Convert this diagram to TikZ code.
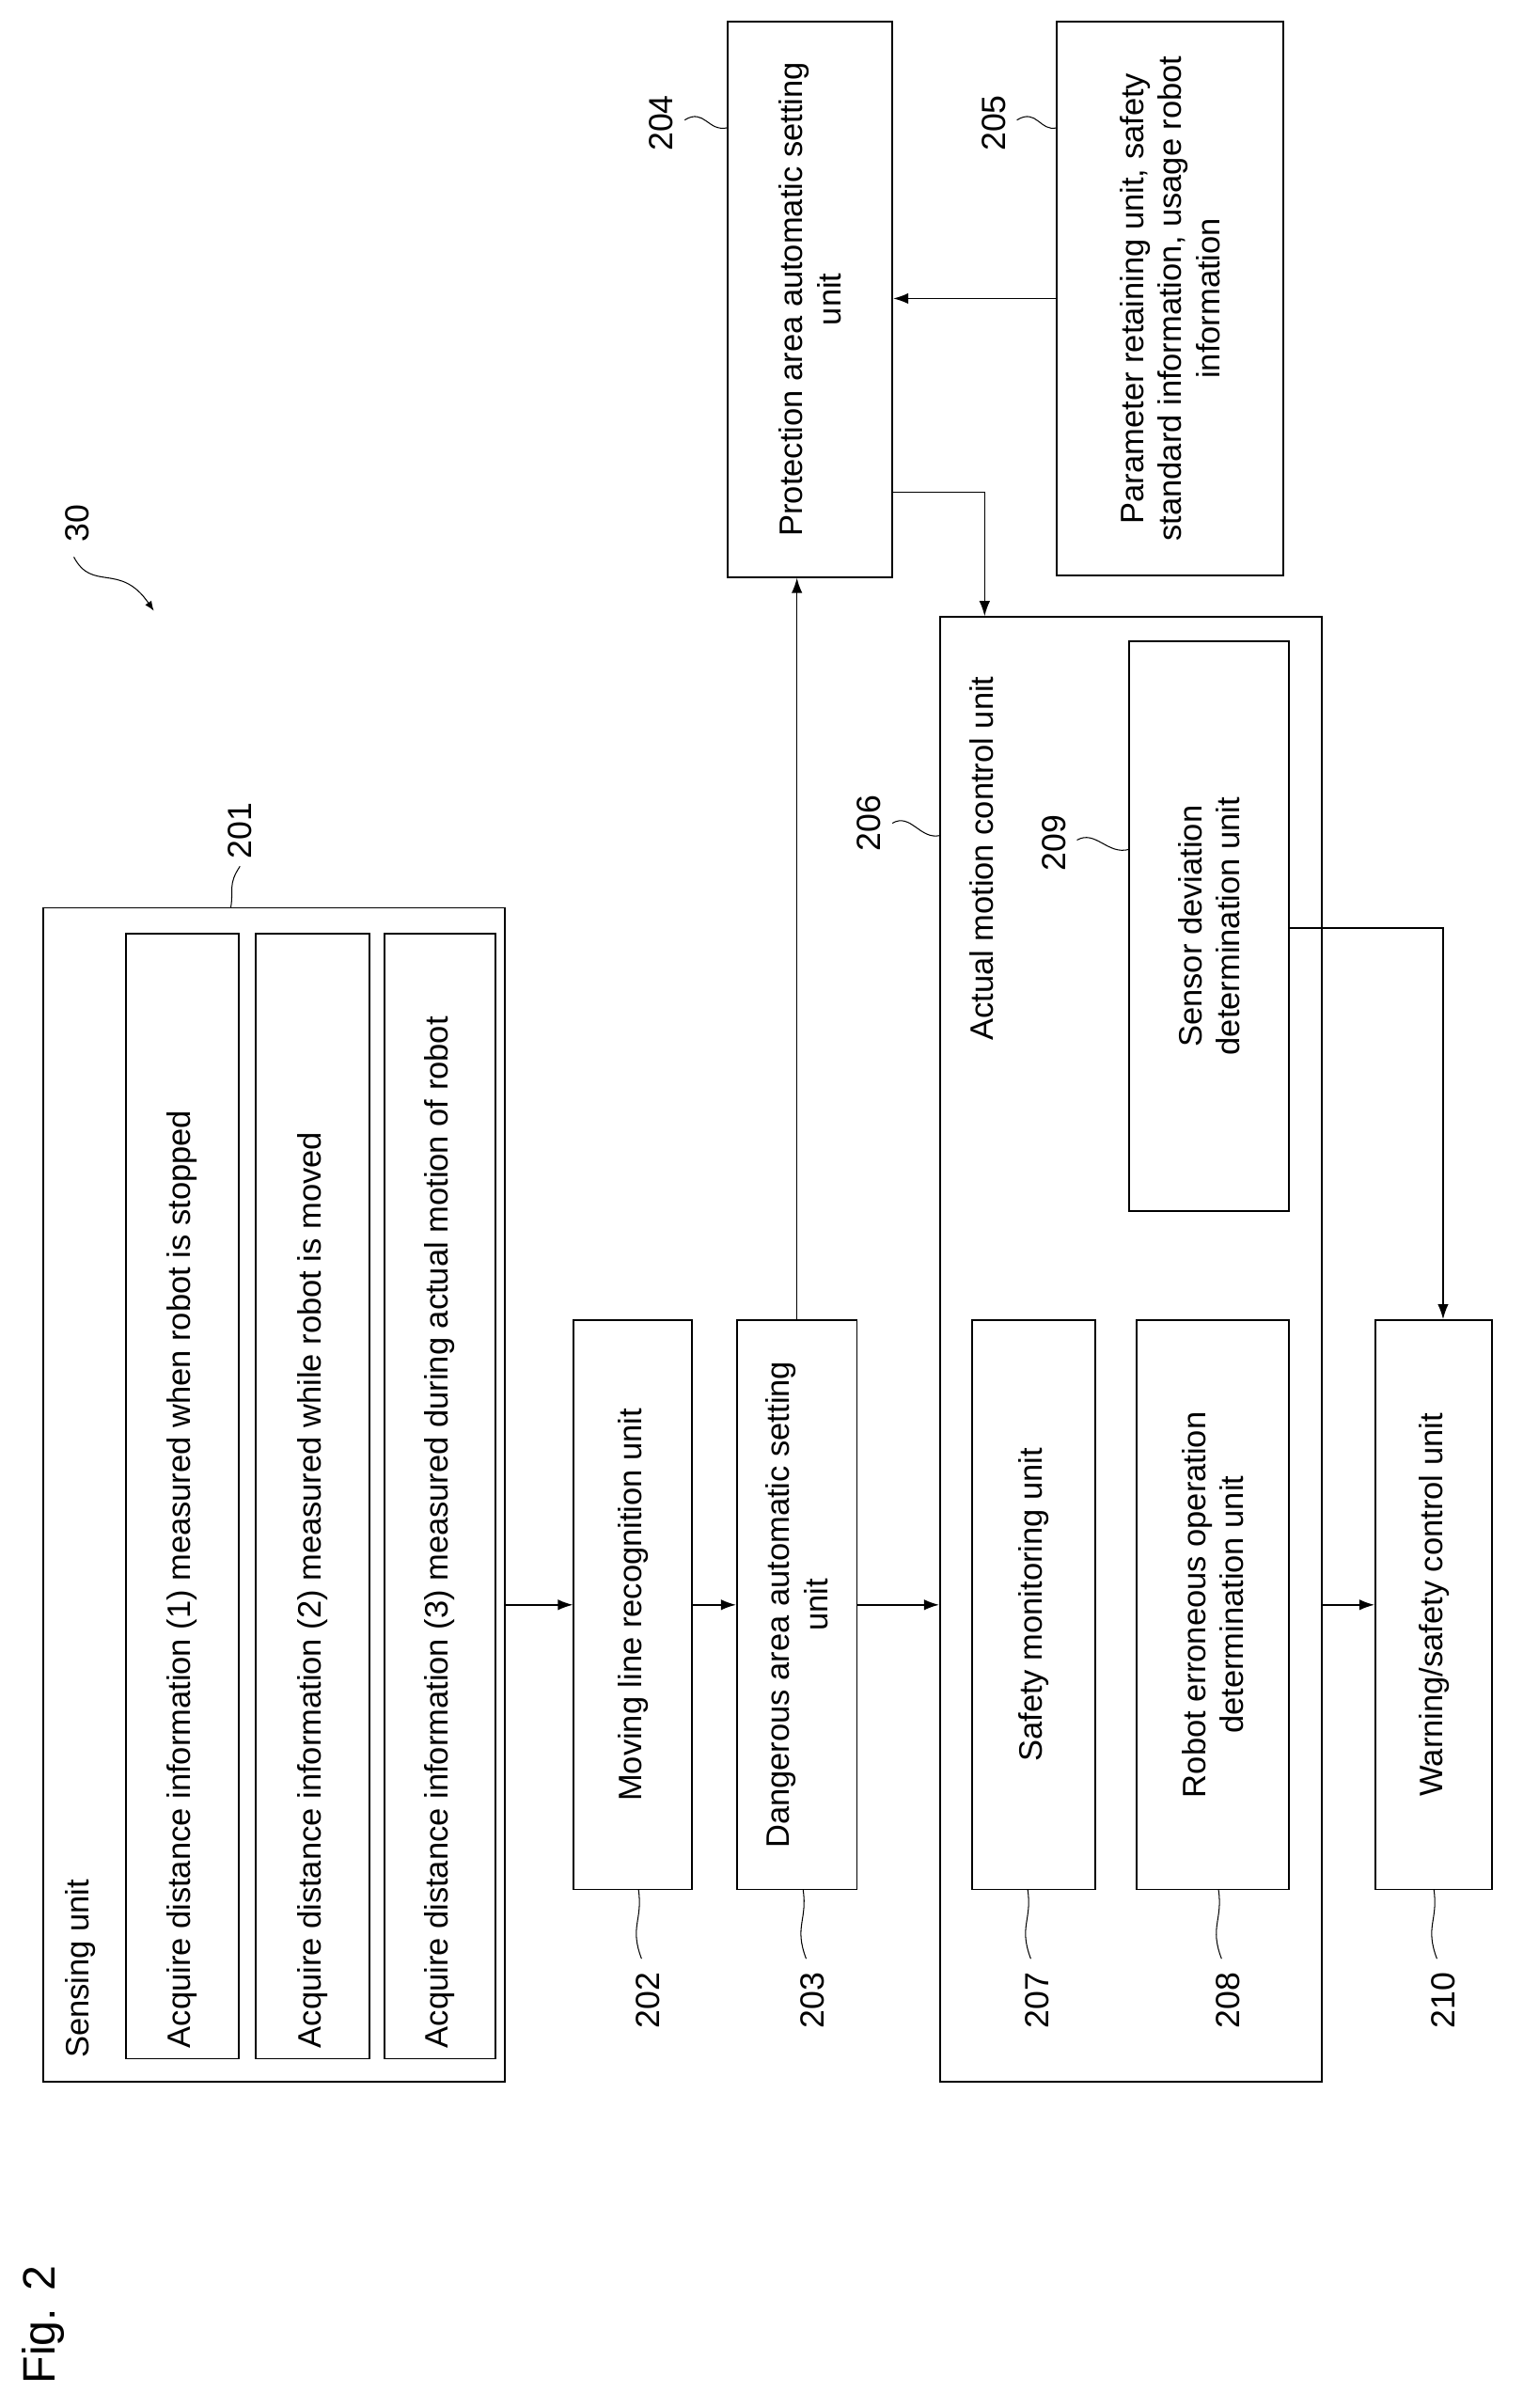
\documentclass[tikz,border=0pt]{standalone}
\usepackage{fontspec}
\setmainfont{Liberation Sans}
\usetikzlibrary{arrows.meta,calc}
\begin{document}
\begin{tikzpicture}[x=0.05cm,y=0.05cm,
  every node/.style={font=\fontsize{30}{35}\selectfont},
  box/.style={draw,line width=1.6pt,rotate=90,inner sep=0pt,align=center},
  lab/.style={rotate=90,font=\fontsize{31}{34}\selectfont},
  arr/.style={line width=1.3pt,-{Latex[length=14pt,width=10pt]}},
  lead/.style={line width=0.9pt}]
\useasboundingbox (0,0) rectangle (1000,-1565);
% boxes
\node[box,minimum width=763*0.05cm,minimum height=300*0.05cm] (s201) at (178,-971.5) {};
\node[rotate=90,anchor=north west] (t201) at (40,-1340) {Sensing unit};
\node[box,minimum width=731*0.05cm,minimum height=73*0.05cm] (i1) at (118.5,-972.5) {};
\node[rotate=90,anchor=west] (ti1) at (i1.west) {\hspace{0.25cm}Acquire distance information (1) measured when robot is stopped};
\node[box,minimum width=731*0.05cm,minimum height=74*0.05cm] (i2) at (203,-972.5) {};
\node[rotate=90,anchor=west] (ti2) at (i2.west) {\hspace{0.25cm}Acquire distance information (2) measured while robot is moved};
\node[box,minimum width=731*0.05cm,minimum height=72*0.05cm] (i3) at (286,-972.5) {};
\node[rotate=90,anchor=west] (ti3) at (i3.west) {\hspace{0.25cm}Acquire distance information (3) measured during actual motion of robot};
\node[box,minimum width=370*0.05cm,minimum height=77*0.05cm] (s202) at (411.5,-1043) {Moving line recognition unit};
\node[box,minimum width=370*0.05cm,minimum height=78*0.05cm] (s203) at (518,-1043) {Dangerous area automatic setting\\unit};
\node[box,minimum width=361*0.05cm,minimum height=107*0.05cm] (s204) at (526.5,-194.5) {Protection area automatic setting\\unit};
\node[box,minimum width=360*0.05cm,minimum height=147*0.05cm] (s205) at (760.5,-194) {Parameter retaining unit, safety\\standard information, usage robot\\information};
\node[box,minimum width=952*0.05cm,minimum height=248*0.05cm] (s206) at (735,-877) {};
\node[rotate=90] (t206) at (638,-558) {Actual motion control unit};
\node[box,minimum width=370*0.05cm,minimum height=80*0.05cm] (s207) at (672,-1043) {Safety monitoring unit};
\node[box,minimum width=370*0.05cm,minimum height=99*0.05cm] (s208) at (788.5,-1043) {Robot erroneous operation\\determination unit};
\node[box,minimum width=370*0.05cm,minimum height=104*0.05cm] (s209) at (786,-602) {Sensor deviation\\determination unit};
\node[box,minimum width=370*0.05cm,minimum height=76*0.05cm] (s210) at (932,-1043) {Warning/safety control unit};
% connectors
\draw[arr] (s202.north -| s201.south) -- (s202.north);
\draw[arr] (s202.south) -- (s203.north);
\draw[arr] (s203.south) -- (s203.south -| s206.north);
\draw[arr] (s210.north -| s206.south) -- (s210.north);
\draw[arr] (s203.east) -- (s203.east |- s204.west);
\draw[arr] (s205.north) -- (s205.north -| s204.south);
\coordinate (k1) at (640,-320);
\draw[arr] (s204.south |- k1) -- (k1) -- (k1 |- s206.east);
\coordinate (k2) at (938,-603);
\draw[arr] (s209.south |- k2) -- (k2) -- (k2 |- s210.east);
% reference labels
\node[lab] (n30) at (50,-340) {30};
\draw[lead,-{Latex[length=9pt,width=7pt]}] (48,-362) .. controls (60,-385) and (78,-365) .. (100,-397);
\node[lab] (n201) at (156,-540) {201};
\draw[lead] (156,-563) .. controls (148,-575) and (152,-578) .. (150,-590);
\node[lab] (n204) at (430,-80) {204};
\draw[lead] (445,-78) .. controls (458,-70) and (460,-86) .. (473,-83);
\node[lab] (n205) at (646,-80) {205};
\draw[lead] (661,-78) .. controls (674,-70) and (676,-86) .. (687,-83);
\node[lab] (n206) at (565,-535) {206};
\draw[lead] (580,-535) .. controls (592,-528) and (598,-546) .. (611,-543);
\node[lab] (n209) at (685,-548) {209};
\draw[lead] (700,-546) .. controls (712,-539) and (720,-556) .. (734,-552);
\foreach \n/\x in {202/415,203/522,207/668,208/792,210/932}{
  \node[lab] (n\n) at (\x+6,-1300) {\n};
  \draw[lead] (\x,-1228) .. controls (\x+3,-1248) and (\x-6,-1252) .. (\x+2,-1273);
}
\node[rotate=90,font=\fontsize{42}{46}\selectfont] (fig) at (28,-1511) {Fig. 2};
\end{tikzpicture}
\end{document}
